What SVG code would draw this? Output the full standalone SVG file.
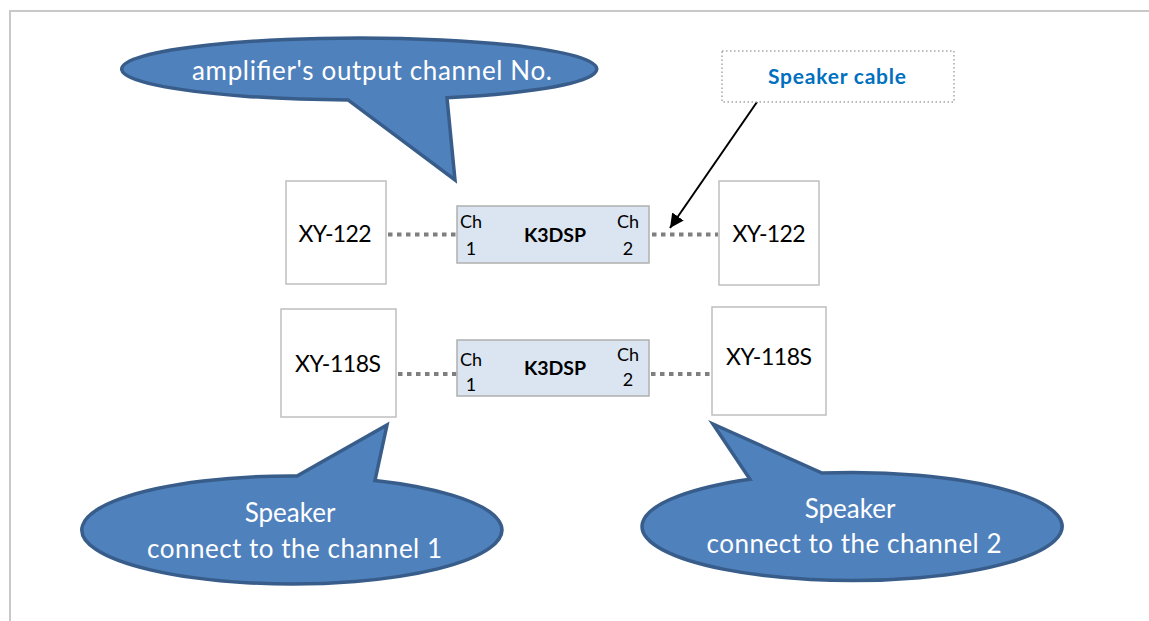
<svg xmlns="http://www.w3.org/2000/svg" width="1149" height="621" viewBox="0 0 1149 621">
<defs>
<style>
.frame{stroke:#c8c8c8;stroke-width:2;fill:none}
.box{fill:#ffffff;stroke:#bfbfbf;stroke-width:1.5}
.dsp{fill:#dbe5f1;stroke:#b0b0b0;stroke-width:1.5}
.lbl{font-family:Lato,"Liberation Sans",sans-serif;font-size:23px;fill:#000;text-anchor:middle}
.ch{font-family:Lato,"Liberation Sans",sans-serif;font-size:18px;fill:#000;text-anchor:middle}
.dsptxt{font-family:Lato,"Liberation Sans",sans-serif;font-size:19.5px;font-weight:bold;fill:#000;text-anchor:middle}
.callout{fill:#4f81bd;stroke:#385d8a;stroke-width:3.5;stroke-linejoin:miter}
.ctxt{font-family:Lato,"Liberation Sans",sans-serif;font-size:26px;fill:#ffffff;text-anchor:middle}
.dots{stroke:#7f7f7f;stroke-width:4;stroke-dasharray:4.5 4.5;fill:none}
.note{fill:#ffffff;stroke:#a6a6a6;stroke-width:1.5;stroke-dasharray:1.5 2.5}
.notetxt{font-family:Lato,"Liberation Sans",sans-serif;font-size:21px;font-weight:bold;fill:#0070c0;text-anchor:middle}
</style>
<marker id="arr" viewBox="0 0 10 10" refX="10" refY="5" markerWidth="7" markerHeight="7" markerUnits="strokeWidth" orient="auto">
<path d="M0,0 L10,5 L0,10 z" fill="#000"/>
</marker>
</defs>
<rect width="1149" height="621" fill="#ffffff"/>
<path class="frame" d="M1149,11 H10 V621"/>

<g id="connectors">
<line class="dots" x1="388" y1="234.5" x2="456" y2="234.5"/>
<line class="dots" x1="652" y1="234.5" x2="718" y2="234.5"/>
<line class="dots" x1="398" y1="374" x2="457" y2="374"/>
<line class="dots" x1="651" y1="374" x2="711" y2="374"/>
<line x1="757" y1="102" x2="670" y2="228" stroke="#000" stroke-width="2" marker-end="url(#arr)"/>
</g>

<g id="callout-top">
<path class="callout" d="M348,99.96 A237.5,31 0 1 1 447,97.8 L455,180 Z"/>
<text class="ctxt" x="372" y="80" textLength="360">amplifier's output channel No.</text>
</g>

<g id="note-cable">
<rect class="note" x="722" y="51" width="232" height="51"/>
<text class="notetxt" x="837" y="84" textLength="138">Speaker cable</text>
</g>

<g id="spk-top-left">
<rect class="box" x="286" y="181" width="100" height="103"/>
<text class="lbl" x="335" y="242" textLength="73">XY-122</text>
</g>

<g id="dsp-top">
<rect class="dsp" x="457" y="206" width="192" height="57"/>
<text class="ch" x="471" y="228">Ch</text>
<text class="ch" x="471" y="255">1</text>
<text class="dsptxt" x="555" y="242" textLength="62">K3DSP</text>
<text class="ch" x="628" y="228">Ch</text>
<text class="ch" x="628" y="255">2</text>
</g>

<g id="spk-top-right">
<rect class="box" x="719" y="181" width="100" height="104"/>
<text class="lbl" x="769" y="242" textLength="73">XY-122</text>
</g>

<g id="spk-bot-left">
<rect class="box" x="281" y="309" width="115" height="108"/>
<text class="lbl" x="338" y="372" textLength="86">XY-118S</text>
</g>

<g id="dsp-bot">
<rect class="dsp" x="457" y="340" width="192" height="56"/>
<text class="ch" x="471" y="366">Ch</text>
<text class="ch" x="471" y="391">1</text>
<text class="dsptxt" x="555" y="375" textLength="62">K3DSP</text>
<text class="ch" x="628" y="361">Ch</text>
<text class="ch" x="628" y="386">2</text>
</g>

<g id="spk-bot-right">
<rect class="box" x="712" y="307" width="114" height="108"/>
<text class="lbl" x="769" y="365" textLength="86">XY-118S</text>
</g>

<g id="callout-bot-left">
<path class="callout" d="M375,480.4 A210,54 0 1 1 297,476 L387,425 Z"/>
<text class="ctxt" x="290" y="522">Speaker</text>
<text class="ctxt" x="294.5" y="558" textLength="295">connect to the channel 1</text>
</g>

<g id="callout-bot-right">
<path class="callout" d="M822,473.05 A210,54 0 1 1 750,479.3 L713,424 Z"/>
<text class="ctxt" x="850" y="518">Speaker</text>
<text class="ctxt" x="854" y="553" textLength="295">connect to the channel 2</text>
</g>
</svg>
